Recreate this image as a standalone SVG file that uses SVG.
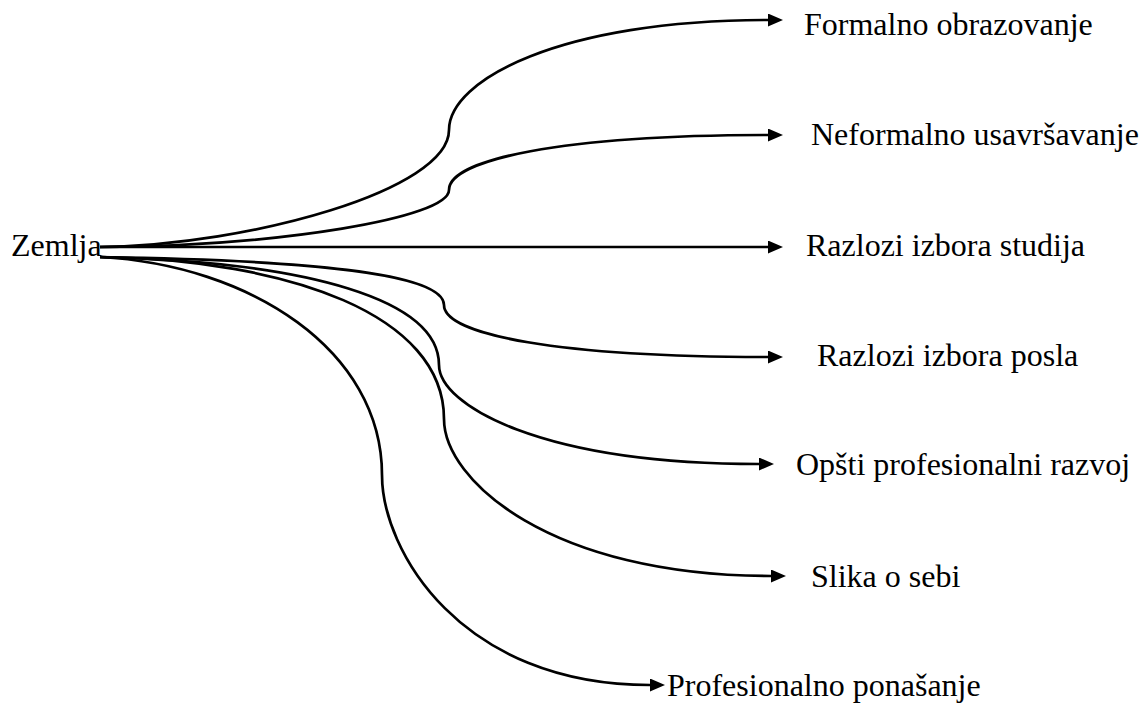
<svg xmlns="http://www.w3.org/2000/svg" width="1142" height="703" viewBox="0 0 1142 703">
  <style>
    text { font-family: "Liberation Serif", "Times New Roman", Tinos, "DejaVu Serif", serif; font-size: 32px; fill: #000; }
    .conn { fill: none; stroke: #000; stroke-width: 2.7; stroke-linecap: butt; }
  </style>
  <defs>
    <marker id="arrow" markerUnits="userSpaceOnUse" markerWidth="16" markerHeight="14" refX="0" refY="6.5" orient="auto">
      <path d="M0,0 L15,6.5 L0,13 z" fill="#000"/>
    </marker>
  </defs>
  <rect width="1142" height="703" fill="#fff"/>

  <g id="connectors">
    <path class="conn" marker-end="url(#arrow)" d="M100,247 C250,245 449,190 449,130 C449,80 560,20 768,20"/>
    <path class="conn" marker-end="url(#arrow)" d="M100,247 C280,246 449,218 449,190 C449,160 560,135 768,135"/>
    <path class="conn" marker-end="url(#arrow)" d="M100,247 L768,247"/>
    <path class="conn" marker-end="url(#arrow)" d="M100,257 C300,260 444,272 444,305 C444,335 560,357 768,357"/>
    <path class="conn" marker-end="url(#arrow)" d="M100,257 C310,262 439,300 439,365 C439,405 540,464 759,464"/>
    <path class="conn" marker-end="url(#arrow)" d="M100,257 C290,260 444,315 444,419 C444,480 550,576 771,576"/>
    <path class="conn" marker-end="url(#arrow)" d="M100,257 C250,265 382,350 382,475 C382,550 460,685 650,685"/>
  </g>

  <g id="node-zemlja"><text x="11" y="256">Zemlja</text></g>
  <g id="node-formalno"><text x="804" y="35">Formalno obrazovanje</text></g>
  <g id="node-neformalno"><text x="811" y="145">Neformalno usavršavanje</text></g>
  <g id="node-studija"><text x="806" y="256">Razlozi izbora studija</text></g>
  <g id="node-posla"><text x="817" y="366">Razlozi izbora posla</text></g>
  <g id="node-opsti"><text x="796" y="475">Opšti profesionalni razvoj</text></g>
  <g id="node-slika"><text x="811" y="587">Slika o sebi</text></g>
  <g id="node-profesionalno"><text x="667" y="696">Profesionalno ponašanje</text></g>
</svg>
